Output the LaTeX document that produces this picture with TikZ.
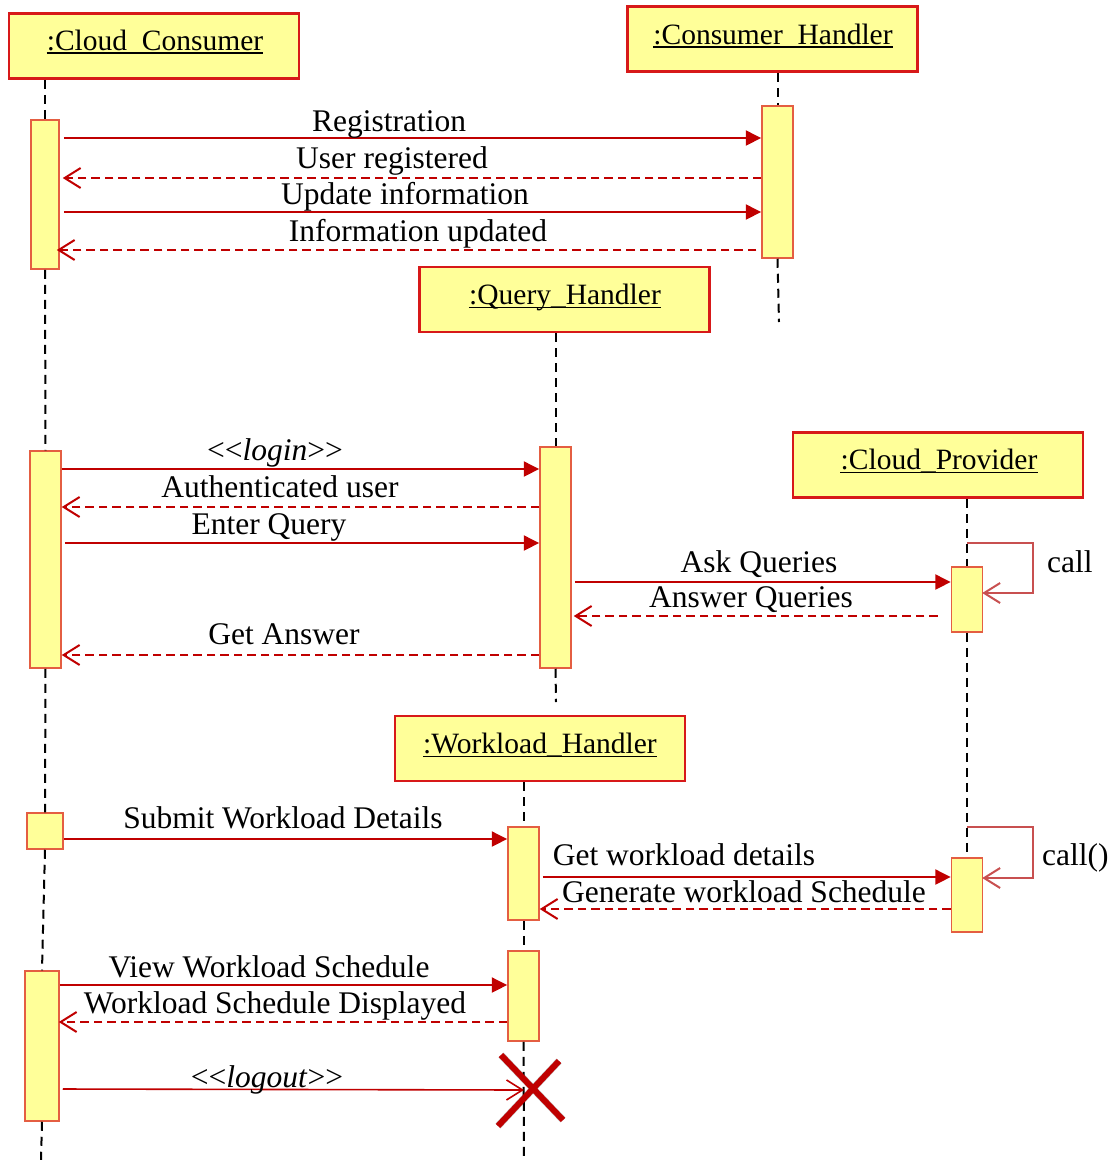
\documentclass[tikz,border=0pt]{standalone}
\usepackage{fontspec}
\setmainfont{Liberation Serif}
\usetikzlibrary{arrows.meta}
\definecolor{msgred}{RGB}{192,0,0}
\definecolor{hdrred}{RGB}{215,25,25}
\definecolor{actred}{RGB}{228,94,66}
\definecolor{selfred}{RGB}{200,80,80}
\definecolor{boxfill}{RGB}{255,255,153}
% stereotype brackets kept as separate angle brackets
\newcommand{\stereo}[1]{\textless\kern0pt\textless\textit{#1}\textgreater\kern0pt\textgreater}
\begin{document}
\begin{tikzpicture}[x=1pt,y=-1pt,
  hdr/.style={draw=hdrred, line width=2.5pt, fill=boxfill, minimum width=290pt, minimum height=65pt, inner sep=0pt},
  htxt/.style={inner sep=0pt, anchor=base, font=\fontsize{29.5}{34}\selectfont},
  uline/.style={draw=black, line width=1.6pt},
  act/.style={draw=actred, line width=1.5pt, fill=boxfill, inner sep=0pt, minimum width=31pt},
  life/.style={draw=black, line width=2pt, dash pattern=on 9pt off 6pt},
  syncmsg/.style={draw=msgred, line width=2pt, -{Triangle[length=15.5pt,width=15pt]}},
  retmsg/.style={draw=msgred, line width=2pt, dash pattern=on 8.5pt off 5pt, -{Straight Barb[length=16pt,width=20pt]}},
  selfmsg/.style={draw=selfred, line width=2pt, -{Straight Barb[length=16pt,width=20pt]}},
  endmsg/.style={draw=msgred, line width=1.6pt, -{Straight Barb[length=16pt,width=20pt]}},
  lbl/.style={inner sep=0pt, anchor=base, font=\fontsize{31.5}{36}\selectfont},
  lbll/.style={lbl, anchor=base west},
  destroy/.style={draw=msgred, line width=6pt},
  destroyshadow/.style={draw=black, opacity=0.25, line width=7pt}]
\useasboundingbox (0,0) rectangle (1113,1160);

% object headers
\node[hdr] (hcc) at (154,46) {};
\node[hdr] (hch) at (772.5,39) {};
\node[hdr] (hqh) at (564.5,299.5) {};
\node[hdr] (hcp) at (938,465) {};
\node[hdr] (hwh) at (540,748.5) {};
\node[htxt] (hccT) at (155,50) {:Cloud\_Consumer};
\node[htxt] (hchT) at (773,44) {:Consumer\_Handler};
\node[htxt] (hqhT) at (565,304.5) {:Query\_Handler};
\node[htxt] (hcpT) at (939,469.5) {:Cloud\_Provider};
\node[htxt] (hwhT) at (540,753.5) {:Workload\_Handler};
\foreach \t in {hccT,hchT,hqhT,hcpT,hwhT}
  \draw[uline] ([yshift=-3pt]\t.base west) -- ([yshift=-3pt]\t.base east);

% activation bars
\node[act, minimum width=28pt, minimum height=149pt] (cc1) at (45,194.5) {};
\node[act, minimum height=152pt] (ch1) at (777.5,182) {};
\node[act, minimum height=217pt] (cc2) at (45.5,559.5) {};
\node[act, minimum height=221pt] (qh1) at (555.5,557.5) {};
\node[act, minimum height=65pt] (cp1) at (967,599.5) {};
\node[act, minimum width=36pt, minimum height=36pt] (cc3) at (45,831) {};
\node[act, minimum height=93pt] (wh1) at (523.5,873.5) {};
\node[act, minimum height=74pt] (cp2) at (967,895) {};
\node[act, minimum height=90pt] (wh2) at (523.5,996) {};
\node[act, minimum width=34pt, minimum height=150pt] (cc4) at (42,1046) {};

% lifelines
\coordinate (ccEnd) at (41,1160);
\coordinate (chEnd) at (779,322);
\coordinate (qhEnd) at (556,702);
\coordinate (whEnd) at (524,1160);
\draw[life] (hcc.south -| cc1.center) -- (cc1.north);
\draw[life] (cc1.south) -- (cc2.north);
\draw[life] (cc2.south) -- (cc3.north);
\draw[life] (cc3.south) -- (cc4.north);
\draw[life] (cc4.south) -- (ccEnd);
\draw[life] (hch.south -| ch1.center) -- (ch1.north);
\draw[life] (ch1.south) -- (chEnd);
\draw[life] (hqh.south -| qh1.center) -- (qh1.north);
\draw[life] (qh1.south) -- (qhEnd);
\draw[life] (hcp.south -| cp1.center) -- (cp1.north);
\draw[life] (cp1.south) -- (cp2.north);
\draw[life] (hwh.south -| wh1.center) -- (wh1.north);
\draw[life] (wh1.south) -- (wh2.north);
\draw[life] (wh2.south) -- (whEnd);

% message levels
\coordinate (m1) at (0,138);
\coordinate (m2) at (0,178);
\coordinate (m3) at (0,212);
\coordinate (m4) at (0,250);
\coordinate (m5) at (0,469);
\coordinate (m6) at (0,507);
\coordinate (m7) at (0,543);
\coordinate (m8) at (0,582);
\coordinate (m9) at (0,616);
\coordinate (m10) at (0,655);
\coordinate (m11) at (0,839);
\coordinate (m12) at (0,877);
\coordinate (m13) at (0,909);
\coordinate (m14) at (0,985);
\coordinate (m15) at (0,1022);
\coordinate (m16) at (0,1089);

% messages
\draw[syncmsg, shorten <=4pt] (cc1.east |- m1) -- (ch1.west |- m1);
\draw[retmsg, shorten >=3pt] (ch1.west |- m2) -- (cc1.east |- m2);
\draw[syncmsg, shorten <=4pt] (cc1.east |- m3) -- (ch1.west |- m3);
\draw[retmsg, shorten <=5pt, shorten >=-3pt] (ch1.west |- m4) -- (cc1.east |- m4);
\draw[syncmsg] (cc2.east |- m5) -- (qh1.west |- m5);
\draw[retmsg] (qh1.west |- m6) -- (cc2.east |- m6);
\draw[syncmsg, shorten <=3pt] (cc2.east |- m7) -- (qh1.west |- m7);
\draw[syncmsg, shorten <=3pt] (qh1.east |- m8) -- (cp1.west |- m8);
\draw[retmsg, shorten <=13pt, shorten >=2pt] (cp1.west |- m9) -- (qh1.east |- m9);
\draw[retmsg] (qh1.west |- m10) -- (cc2.east |- m10);
\draw[syncmsg] (cc3.east |- m11) -- (wh1.west |- m11);
\draw[syncmsg, shorten <=3pt] (wh1.east |- m12) -- (cp2.west |- m12);
\draw[retmsg] (cp2.west |- m13) -- (wh1.east |- m13);
\draw[syncmsg] (cc4.east |- m14) -- (wh2.west |- m14);
\draw[retmsg, shorten >=-1pt] (wh2.west |- m15) -- (cc4.east |- m15);

% self calls on the provider
\coordinate (s1) at (0,543);
\coordinate (s2) at (0,593);
\coordinate (s3) at (0,827);
\coordinate (s4) at (0,878);
\draw[selfmsg, shorten >=-1pt] (cp1.center |- s1) -- ++(66,0) |- (cp1.east |- s2);
\draw[selfmsg, shorten >=-1pt] (cp2.center |- s3) -- ++(66,0) |- (cp2.east |- s4);

% destruction of the workload handler
\coordinate (wx) at (530,1090);
\draw[endmsg, shorten <=3pt] (cc4.east |- m16) -- (wx.center -| whEnd);
\begin{scope}[shift={(2,4)}]
  \draw[destroyshadow] ([shift={(-29,-35)}]wx) -- ([shift={(33,30)}]wx);
  \draw[destroyshadow] ([shift={(-32,36)}]wx) -- ([shift={(29,-29)}]wx);
\end{scope}
\draw[destroy] ([shift={(-29,-35)}]wx) -- ([shift={(33,30)}]wx);
\draw[destroy] ([shift={(-32,36)}]wx) -- ([shift={(29,-29)}]wx);

% message labels
\node[lbl] (l1) at (389,131) {Registration};
\node[lbl] (l2) at (392,168) {User registered};
\node[lbl] (l3) at (405,204) {Update information};
\node[lbl] (l4) at (418,241) {Information updated};
\node[lbl] (l5) at (275,460) {\stereo{login}};
\node[lbl] (l6) at (280,497) {Authenticated user};
\node[lbl] (l7) at (269,534) {Enter Query};
\node[lbl] (l8) at (759,572) {Ask Queries};
\node[lbl] (l9) at (751,607) {Answer Queries};
\node[lbl] (l10) at (284,644) {Get Answer};
\node[lbll] (l11) at (1047,572) {call};
\node[lbl] (l12) at (283,828) {Submit Workload Details};
\node[lbl] (l13) at (684,865) {Get workload details};
\node[lbll] (l14) at (1042,865) {call()};
\node[lbl] (l15) at (744,902) {Generate workload Schedule};
\node[lbl] (l16) at (269,977) {View Workload Schedule};
\node[lbl] (l17) at (275,1013) {Workload Schedule Displayed};
\node[lbl] (l18) at (267,1087) {\stereo{logout}};
\end{tikzpicture}
\end{document}
